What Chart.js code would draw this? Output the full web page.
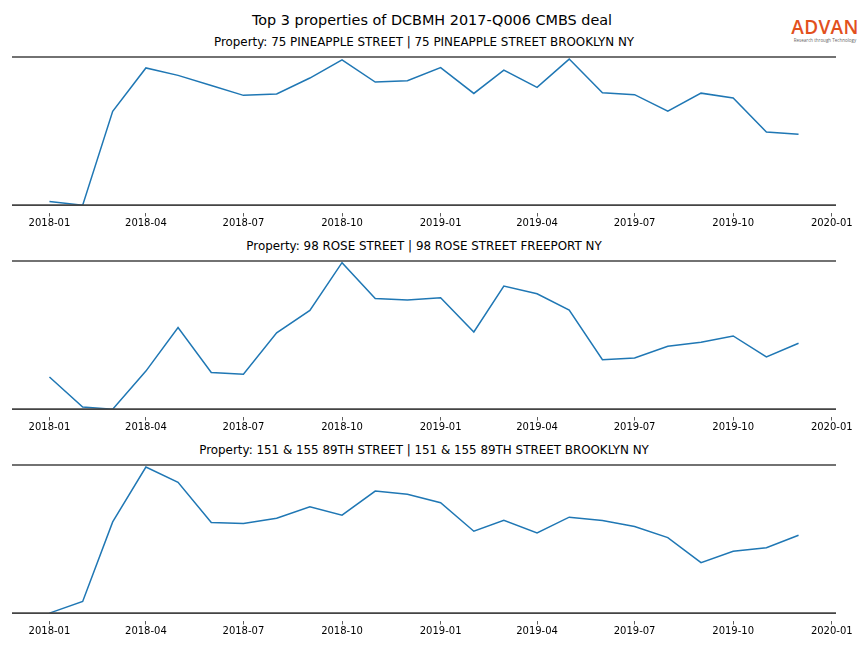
<!DOCTYPE html>
<html>
<head>
<meta charset="utf-8">
<script src="https://cdn.jsdelivr.net/npm/chart.js@4.4.1/dist/chart.umd.min.js"></script>
<style>
  body { margin: 0; background: #fff; width: 864px; height: 648px; position: relative; overflow: hidden; font-family: "DejaVu Sans", sans-serif; }
  canvas { position: absolute; left: 0; }
  .title { position: absolute; left: 0; width: 864px; text-align: center; font-size: 14.4px; line-height: 16px; top: 12px; color: #000; }
  .sub { position: absolute; left: 12px; width: 824px; text-align: center; font-size: 11.9px; line-height: 14px; color: #000; }
  .logo { position: absolute; left: 791px; top: 16px; width: 68px; text-align: center; }
  .logo .big { font-family: "Open Sans", sans-serif; font-weight: 600; font-size: 19px; line-height: 22px; color: #e2501d; letter-spacing: 0.3px; }
  .logo .small { font-family: "Open Sans", sans-serif; font-size: 4.5px; line-height: 5px; color: #666; white-space: nowrap; }
</style>
</head>
<body>
<div class="title">Top 3 properties of DCBMH 2017-Q006 CMBS deal</div>
<div class="logo"><div class="big">ADVAN</div><div class="small">Research through Technology</div></div>
<div class="sub" style="top:35px">Property: 75 PINEAPPLE STREET | 75 PINEAPPLE STREET BROOKLYN NY</div>
<div class="sub" style="top:239px">Property: 98 ROSE STREET | 98 ROSE STREET FREEPORT NY</div>
<div class="sub" style="top:443px">Property: 151 &amp; 155 89TH STREET | 151 &amp; 155 89TH STREET BROOKLYN NY</div>
<canvas id="c1" width="864" height="180" style="top:52px"></canvas>
<canvas id="c2" width="864" height="180" style="top:256px"></canvas>
<canvas id="c3" width="864" height="180" style="top:460px"></canvas>
<script>
// months since 2018-01
const months = [0,1,2,3,4,5,6,7,8,9,10,11,12,13,14,15,16,17,18,19,20,21,22,23];
const tickMonths = [0,3,6,9,12,15,18,21,24];
const tickLabels = ["2018-01","2018-04","2018-07","2018-10","2019-01","2019-04","2019-07","2019-10","2020-01"];

// relative activity (0 = bottom line, 100 = top line)
const pineapple = [2.4,0,63.3,92.6,87.6,80.8,74.1,75.0,85.8,98.0,83.1,84.0,
                   92.8,75.4,91.2,79.5,98.6,75.9,74.6,63.5,75.6,72.3,49.3,47.9];
const rose = [21.7,1.4,0,25.7,55.1,24.8,23.5,51.5,66.6,98.9,74.7,73.6,
              75.2,52.1,83.1,77.9,66.8,33.4,34.5,42.5,45.2,49.4,35.2,44.5];
const street89 = [0,7.9,61.6,98.6,88.3,61.2,60.5,64.1,71.8,66.1,82.4,80.2,
                  74.5,55.3,62.6,54.2,64.8,62.6,58.5,51.0,34.1,41.8,44.2,52.6];
const refLines = [0, 100];

// days since 2018-01-01 for a month index
const day = m => (Date.UTC(2018, m, 1) - Date.UTC(2018, 0, 1)) / 86400000;
const tickDays = tickMonths.map(day);

const hLines = {
  id: 'hLines',
  afterDatasetsDraw(chart) {
    const ctx = chart.ctx, a = chart.chartArea, y = chart.scales.y;
    ctx.save();
    ctx.strokeStyle = '#444';
    ctx.lineWidth = 1.6;
    ctx.beginPath();
    refLines.forEach(v => {
      const py = y.getPixelForValue(v);
      ctx.moveTo(a.left, py);
      ctx.lineTo(a.right, py);
    });
    ctx.stroke();
    ctx.restore();
  }
};

function makeChart(id, values) {
  new Chart(document.getElementById(id), {
    type: 'line',
    data: {
      datasets: [{
        data: months.map((m, i) => ({x: day(m), y: values[i]})),
        borderColor: '#1f77b4',
        borderWidth: 1.5,
        pointRadius: 0,
        tension: 0,
        clip: false
      }]
    },
    options: {
      responsive: false,
      animation: false,
      devicePixelRatio: 1,
      layout: { padding: { left: 12, right: 28, top: 5, bottom: 1.5 } },
      plugins: { legend: { display: false }, tooltip: { enabled: false } },
      scales: {
        x: {
          type: 'linear',
          min: -34.95,
          max: 733.95,
          afterBuildTicks: axis => { axis.ticks = tickDays.map(v => ({value: v})); },
          grid: { drawOnChartArea: false, drawTicks: true, tickLength: 3.5, color: '#333', lineWidth: 0.8 },
          border: { display: false },
          ticks: {
            autoSkip: false,
            maxRotation: 0,
            padding: 1,
            color: '#000',
            font: { family: 'DejaVu Sans', size: 10 },
            callback: (v) => tickLabels[tickDays.indexOf(v)]
          }
        },
        y: { display: false, min: -5.3, max: 100 }
      }
    },
    plugins: [hLines]
  });
}

makeChart('c1', pineapple);
makeChart('c2', rose);
makeChart('c3', street89);
</script>
</body>
</html>
